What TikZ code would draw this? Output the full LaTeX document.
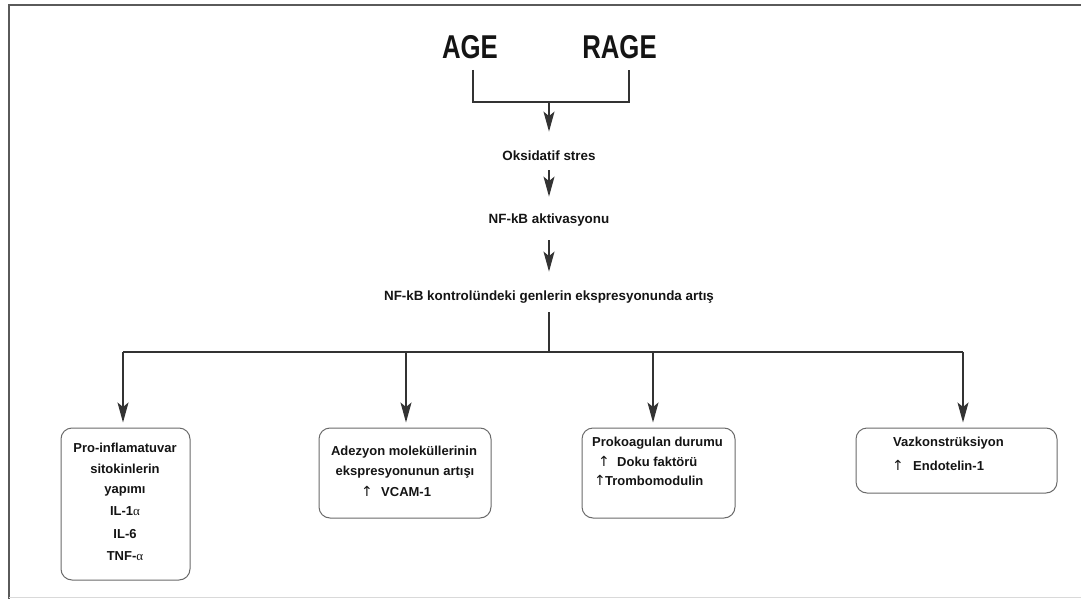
\documentclass[tikz,border=0pt]{standalone}
\usepackage{graphicx}
\usepackage{fontspec}
\setmainfont{Liberation Sans}
\newfontfamily\arrfont{DejaVu Sans}
\newfontfamily\grkfont{Liberation Serif}
\usetikzlibrary{arrows.meta}
\definecolor{lncol}{HTML}{333333}
\definecolor{txcol}{HTML}{141414}
\definecolor{bxcol}{HTML}{6A6A6A}
\definecolor{frcol}{HTML}{5A5A5A}
\newcommand{\alf}{{\grkfont\mdseries α}}
\begin{document}
\begin{tikzpicture}[x=1pt,y=-1pt,
  lbl/.style={font=\fontsize{13}{15}\selectfont\bfseries, text=txcol, inner sep=0pt, text height=9.5pt, text depth=2.5pt},
  mainlbl/.style={font=\fontsize{13.4}{15}\selectfont\bfseries, text=txcol, inner sep=0pt, text height=9.8pt, text depth=2.6pt},
  uparr/.style={font=\arrfont\fontsize{14}{16}\selectfont, text=txcol, inner sep=0pt, text height=9.5pt, text depth=2.5pt},
  big/.style={font=\fontsize{33}{36}\selectfont\bfseries, text=txcol, inner sep=0pt},
  wire/.style={draw=lncol, line width=1.4pt},
  arr/.style={wire, -{Stealth[length=20pt,width=11pt,inset=4.5pt]}},
  boxn/.style={draw=bxcol, line width=1pt, rounded corners=11pt, inner sep=0pt}]
\useasboundingbox (0,0) rectangle (1081,599);
% frame
\draw[line width=1.6pt, draw=frcol] (9,600) -- (9,5) -- (1082,5);
\draw[line width=1pt, draw=black!15] (9,597.5) -- (1082,597.5);

% top
\node[big] (age) at (470,47) {\scalebox{0.78}[1]{AGE}};
\node[big] (rage) at (619.5,47) {\scalebox{0.78}[1]{RAGE}};
\coordinate (ageb) at (473,70);
\coordinate (rageb) at (629,70);
\coordinate (j) at (549,102);
\draw[wire] (ageb) |- (j) -| (rageb);

\node[mainlbl] (ox) at (549,157) {Oksidatif stres};
\node[mainlbl] (nfkb) at (549,220) {NF-kB aktivasyonu};
\node[mainlbl] (genes) at (549,297) {NF-kB kontrolündeki genlerin ekspresyonunda artış};

\draw[arr, shorten >=19pt] (j) -- (ox.north);
\draw[arr, shorten <=7pt, shorten >=17pt] (ox.south) -- (nfkb.north);
\draw[arr, shorten <=14pt, shorten >=19pt] (nfkb.south) -- (genes.north);

\coordinate (split) at (549,352);
\draw[wire, shorten <=9pt] (genes.south) -- (split);
\coordinate (a1) at (123,352);
\coordinate (a2) at (406,352);
\coordinate (a3) at (653,352);
\coordinate (a4) at (963,352);
\draw[wire] (a1) -- (a4);

% boxes
\node[boxn, minimum width=129pt, minimum height=152pt] (b1) at (125.5,504) {};
\node[boxn, minimum width=172pt, minimum height=90pt] (b2) at (405,473) {};
\node[boxn, minimum width=153pt, minimum height=90pt] (b3) at (658.5,473) {};
\node[boxn, minimum width=201pt, minimum height=65pt] (b4) at (956.5,460.5) {};

\draw[arr, shorten >=5pt] (a1) -- (a1 |- b1.north);
\draw[arr, shorten >=5pt] (a2) -- (a2 |- b2.north);
\draw[arr, shorten >=5pt] (a3) -- (a3 |- b3.north);
\draw[arr, shorten >=5pt] (a4) -- (a4 |- b4.north);

% box 1 text
\node[lbl] (t11) at (125,449) {Pro-inflamatuvar};
\node[lbl] (t12) at (125,470) {sitokinlerin};
\node[lbl] (t13) at (125,490) {yapımı};
\node[lbl] (t14) at (125,512) {IL-1\alf};
\node[lbl] (t15) at (125,535) {IL-6};
\node[lbl] (t16) at (125,557) {TNF-\alf};

% box 2 text
\node[lbl] (t21) at (404,452) {Adezyon moleküllerinin};
\node[lbl] (t22) at (405,472) {ekspresyonunun artışı};
\node[uparr] (u21) at (367,493) {↑};
\node[lbl, anchor=west] (t23) at (381,493) {VCAM-1};

% box 3 text
\node[lbl, anchor=west] (t31) at (592,443) {Prokoagulan durumu};
\node[uparr] (u31) at (604,463) {↑};
\node[lbl, anchor=west] (t32) at (617,463) {Doku faktörü};
\node[uparr] (u32) at (600,482) {↑};
\node[lbl, anchor=west] (t33) at (605,482) {Trombomodulin};

% box 4 text
\node[lbl, anchor=west] (t41) at (893,443) {Vazkonstrüksiyon};
\node[uparr] (u41) at (898,467) {↑};
\node[lbl, anchor=west] (t42) at (913,467) {Endotelin-1};
\end{tikzpicture}
\end{document}
